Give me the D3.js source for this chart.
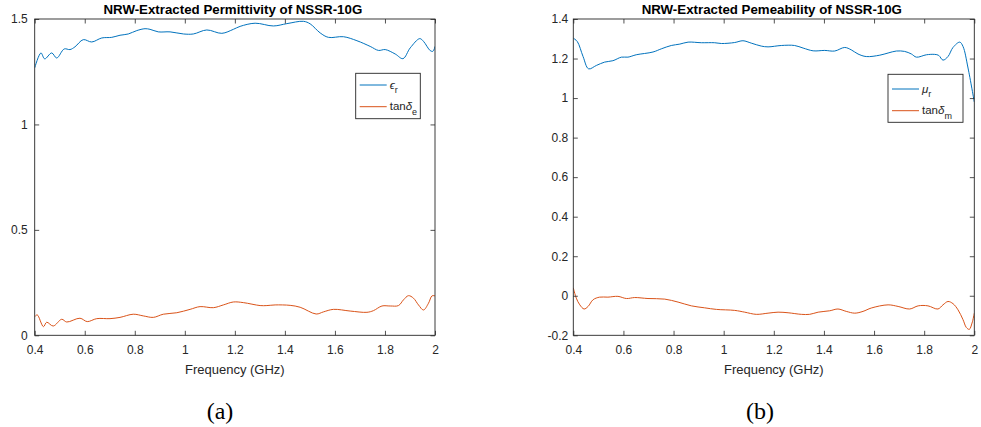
<!DOCTYPE html>
<html>
<head>
<meta charset="utf-8">
<script src="https://cdnjs.cloudflare.com/ajax/libs/d3/7.8.5/d3.min.js"></script>
<style>
	body { margin: 0; background: #fff; }
	svg { display: block; font-family: "Liberation Sans", Arial, sans-serif; }
	.tick text { fill: #262626; font-size: 12px; }
	.tick line { stroke: #262626; stroke-width: 0.8; }
	.domain { display: none; }
</style>
</head>
<body>
<div id="chart"></div>
<script>

// tick values / labels
var xTicks = [0.4, 0.6, 0.8, 1, 1.2, 1.4, 1.6, 1.8, 2];
var xTickLabels = ["0.4", "0.6", "0.8", "1", "1.2", "1.4", "1.6", "1.8", "2"];
var epsTicks = [0, 0.5, 1, 1.5];
var epsTickLabels = ["0", "0.5", "1", "1.5"];
var muTicks = [-0.2, 0, 0.2, 0.4, 0.6, 0.8, 1, 1.2, 1.4];
var muTickLabels = ["-0.2", "0", "0.2", "0.4", "0.6", "0.8", "1", "1.2", "1.4"];

// (a) permittivity, eps_r
var epsFreq = [0.400, 0.425, 0.440, 0.468, 0.488, 0.518, 0.541, 0.561, 0.594, 0.628, 0.668, 0.708, 0.741, 0.774, 0.808, 0.841, 0.861, 0.894, 0.941, 0.995, 1.034, 1.088, 1.148, 1.194, 1.221, 1.281, 1.354, 1.408, 1.474, 1.501, 1.541, 1.574, 1.634, 1.688, 1.741, 1.774, 1.801, 1.841, 1.872, 1.901, 1.939, 1.954, 1.981, 1.992, 2.000];
var epsR = [1.268, 1.339, 1.311, 1.339, 1.315, 1.358, 1.355, 1.368, 1.402, 1.391, 1.410, 1.413, 1.423, 1.429, 1.445, 1.454, 1.451, 1.439, 1.439, 1.429, 1.429, 1.448, 1.432, 1.451, 1.465, 1.480, 1.467, 1.478, 1.489, 1.477, 1.434, 1.413, 1.416, 1.397, 1.370, 1.351, 1.355, 1.334, 1.312, 1.363, 1.407, 1.394, 1.350, 1.347, 1.370];

// (a) electric loss tangent
var tanEFreq = [0.400, 0.410, 0.435, 0.448, 0.474, 0.508, 0.528, 0.581, 0.610, 0.648, 0.701, 0.741, 0.794, 0.834, 0.874, 0.914, 0.968, 1.021, 1.061, 1.114, 1.154, 1.194, 1.234, 1.301, 1.328, 1.361, 1.421, 1.461, 1.525, 1.554, 1.594, 1.661, 1.728, 1.754, 1.788, 1.821, 1.854, 1.874, 1.894, 1.914, 1.934, 1.954, 1.974, 1.988, 2.000];
var tanDeltaE = [0.088, 0.097, 0.041, 0.062, 0.044, 0.076, 0.063, 0.081, 0.065, 0.079, 0.079, 0.085, 0.100, 0.092, 0.085, 0.100, 0.107, 0.123, 0.136, 0.131, 0.144, 0.158, 0.155, 0.141, 0.141, 0.144, 0.142, 0.133, 0.101, 0.111, 0.123, 0.115, 0.109, 0.117, 0.139, 0.139, 0.141, 0.168, 0.188, 0.176, 0.144, 0.120, 0.152, 0.187, 0.187];

// (b) permeability, mu_r
var muFreq = [0.400, 0.416, 0.439, 0.461, 0.492, 0.525, 0.558, 0.592, 0.618, 0.651, 0.718, 0.751, 0.791, 0.825, 0.858, 0.911, 0.964, 0.991, 1.044, 1.077, 1.110, 1.150, 1.177, 1.230, 1.283, 1.317, 1.357, 1.403, 1.443, 1.483, 1.509, 1.536, 1.569, 1.623, 1.656, 1.689, 1.722, 1.749, 1.769, 1.809, 1.842, 1.858, 1.875, 1.895, 1.915, 1.942, 1.955, 1.975, 2.000];
var muR = [1.303, 1.286, 1.210, 1.148, 1.165, 1.182, 1.189, 1.207, 1.207, 1.219, 1.233, 1.249, 1.266, 1.273, 1.283, 1.280, 1.280, 1.276, 1.281, 1.290, 1.278, 1.263, 1.259, 1.266, 1.266, 1.253, 1.239, 1.241, 1.238, 1.256, 1.244, 1.223, 1.210, 1.217, 1.228, 1.238, 1.236, 1.223, 1.207, 1.219, 1.221, 1.216, 1.192, 1.210, 1.256, 1.283, 1.261, 1.152, 0.980];

// (b) magnetic loss tangent
var tanMFreq = [0.400, 0.412, 0.426, 0.443, 0.459, 0.479, 0.505, 0.538, 0.578, 0.612, 0.645, 0.698, 0.765, 0.818, 0.871, 0.924, 0.971, 1.044, 1.084, 1.130, 1.177, 1.217, 1.257, 1.310, 1.343, 1.377, 1.423, 1.456, 1.489, 1.523, 1.556, 1.589, 1.656, 1.696, 1.742, 1.776, 1.815, 1.855, 1.875, 1.895, 1.915, 1.935, 1.955, 1.968, 1.980, 1.991, 2.000];
var tanDeltaM = [0.040, -0.012, -0.046, -0.067, -0.054, -0.020, -0.007, -0.007, -0.003, -0.014, -0.009, -0.014, -0.017, -0.032, -0.051, -0.061, -0.069, -0.074, -0.083, -0.094, -0.088, -0.083, -0.086, -0.094, -0.094, -0.083, -0.076, -0.067, -0.079, -0.088, -0.079, -0.062, -0.046, -0.054, -0.067, -0.051, -0.051, -0.067, -0.046, -0.029, -0.040, -0.071, -0.121, -0.160, -0.170, -0.138, -0.088];

var blue = "#0072BD";
var orange = "#D95319";
var ink = "#262626";

var panels = [
	{
		id: "a",
		title: "NRW-Extracted Permittivity of NSSR-10G",
		caption: "(a)",
		captionX: 220,
		box: { left: 34.7, right: 435, top: 19, bottom: 335.3 },
		yDomain: [0, 1.5],
		yTicks: epsTicks,
		yLabels: epsTickLabels,
		yPad: 7,
		series: [
			{ x: epsFreq, y: epsR, color: blue, pre: "", greek: "\u03F5", sub: "r" },
			{ x: tanEFreq, y: tanDeltaE, color: orange, pre: "tan", greek: "\u03B4", sub: "e" }
		],
		legend: { x: 355.7, y: 73.3, w: 64.6, h: 45.4, rows: [11.7, 33.4] }
	},
	{
		id: "b",
		title: "NRW-Extracted Pemeability of NSSR-10G",
		caption: "(b)",
		captionX: 760,
		box: { left: 573.3, right: 974.3, top: 19, bottom: 335.3 },
		yDomain: [-0.2, 1.4],
		yTicks: muTicks,
		yLabels: muTickLabels,
		yPad: 5,
		series: [
			{ x: muFreq, y: muR, color: blue, pre: "", greek: "\u03BC", sub: "r" },
			{ x: tanMFreq, y: tanDeltaM, color: orange, pre: "tan", greek: "\u03B4", sub: "m" }
		],
		legend: { x: 888, y: 74.3, w: 75, h: 48, rows: [14.7, 36.4] }
	}
];

var svg = d3.select("#chart")
	.append("svg")
	.attr("width", 981)
	.attr("height", 427);

svg.append("rect")
	.attr("width", 981)
	.attr("height", 427)
	.attr("fill", "#fff");

panels.forEach(drawPanel);

function drawPanel(p) {
	var b = p.box;
	var tick = 4.5;

	var x = d3.scaleLinear().domain([0.4, 2]).range([b.left, b.right]);
	var y = d3.scaleLinear().domain(p.yDomain).range([b.bottom, b.top]);

	var g = svg.append("g").attr("class", "panel-" + p.id);

	// clip to the axes box
	g.append("clipPath")
		.attr("id", "clip-" + p.id)
		.append("rect")
		.attr("x", b.left)
		.attr("y", b.top)
		.attr("width", b.right - b.left)
		.attr("height", b.bottom - b.top);

	var line = d3.line()
		.x(function(d) { return x(d[0]); })
		.y(function(d) { return y(d[1]); })
		.curve(d3.curveCatmullRom.alpha(0.5));

	g.append("g")
		.attr("clip-path", "url(#clip-" + p.id + ")")
		.selectAll("path")
		.data(p.series)
		.enter()
		.append("path")
		.attr("fill", "none")
		.attr("stroke", function(s) { return s.color; })
		.attr("stroke-width", 1)
		.attr("d", function(s) {
			return line(d3.zip(s.x, s.y));
		});

	// axes: ticks pointing inwards on all four sides
	g.append("g")
		.attr("transform", "translate(0," + b.bottom + ")")
		.call(d3.axisBottom(x).tickValues(xTicks).tickSizeInner(-tick).tickSizeOuter(0).tickPadding(10)
			.tickFormat(function(d, i) { return xTickLabels[i]; }));

	g.append("g")
		.attr("transform", "translate(0," + b.top + ")")
		.call(d3.axisTop(x).tickValues(xTicks).tickSizeInner(-tick).tickSizeOuter(0).tickFormat(""));

	g.append("g")
		.attr("transform", "translate(" + b.left + ",0)")
		.call(d3.axisLeft(y).tickValues(p.yTicks).tickSizeInner(-tick).tickSizeOuter(0).tickPadding(p.yPad)
			.tickFormat(function(d, i) { return p.yLabels[i]; }));

	g.append("g")
		.attr("transform", "translate(" + b.right + ",0)")
		.call(d3.axisRight(y).tickValues(p.yTicks).tickSizeInner(-tick).tickSizeOuter(0).tickFormat(""));

	g.append("rect")
		.attr("x", b.left)
		.attr("y", b.top)
		.attr("width", b.right - b.left)
		.attr("height", b.bottom - b.top)
		.attr("fill", "none")
		.attr("stroke", ink)
		.attr("stroke-width", 0.9);

	var cx = (b.left + b.right) / 2;

	g.append("text")
		.attr("x", cx - 2)
		.attr("y", 13.5)
		.attr("text-anchor", "middle")
		.attr("font-size", 13.3)
		.attr("font-weight", "bold")
		.attr("fill", "#000")
		.text(p.title);

	g.append("text")
		.attr("x", cx)
		.attr("y", 374)
		.attr("text-anchor", "middle")
		.attr("font-size", 13)
		.attr("fill", ink)
		.text("Frequency (GHz)");

	g.append("text")
		.attr("x", p.captionX)
		.attr("y", 419)
		.attr("text-anchor", "middle")
		.attr("font-family", "'Liberation Serif', 'Times New Roman', serif")
		.attr("font-size", 24)
		.attr("fill", "#000")
		.text(p.caption);

	// legend
	var L = p.legend;
	var lg = g.append("g").attr("transform", "translate(" + L.x + "," + L.y + ")");

	lg.append("rect")
		.attr("width", L.w)
		.attr("height", L.h)
		.attr("fill", "#fff")
		.attr("stroke", ink)
		.attr("stroke-width", 0.9);

	var rows = lg.selectAll("g.row")
		.data(p.series)
		.enter()
		.append("g")
		.attr("class", "row")
		.attr("transform", function(s, i) { return "translate(0," + L.rows[i] + ")"; });

	rows.append("line")
		.attr("x1", 4)
		.attr("x2", 31)
		.attr("stroke", function(s) { return s.color; })
		.attr("stroke-width", 1);

	var label = rows.append("text")
		.attr("x", 34)
		.attr("y", 3.5)
		.attr("font-size", 11.5)
		.attr("fill", ink);

	label.append("tspan").text(function(s) { return s.pre; });
	label.append("tspan").attr("font-style", "italic").text(function(s) { return s.greek; });
	label.append("tspan")
		.attr("dy", 4.5)
		.attr("font-size", 9)
		.text(function(s) { return s.sub; });
}

</script>
</body>
</html>
